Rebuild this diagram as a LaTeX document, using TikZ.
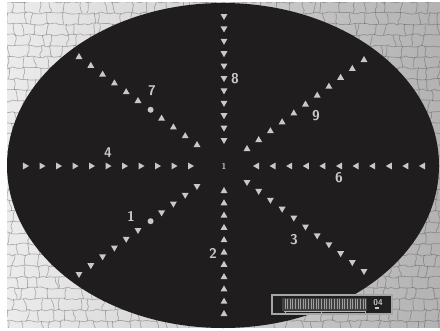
\documentclass[tikz,border=0pt]{standalone}
\usetikzlibrary{shapes.geometric,decorations.pathmorphing,calc}
\definecolor{plate}{HTML}{1F1D1E}
\definecolor{marker}{HTML}{C8C8C8}

\tikzset{
  tri/.style={regular polygon, regular polygon sides=3, fill=marker,
    inner sep=0pt, minimum size=0.2cm},
  tri up/.style={tri},
  tri down/.style={tri, shape border rotate=180},
  tri left/.style={tri, shape border rotate=90},
  tri right/.style={tri, shape border rotate=270},
  dot/.style={circle, fill=marker, inner sep=0pt, minimum size=0.15cm},
  num/.style={text=marker, inner sep=0pt,
    font=\sffamily\bfseries\fontsize{10}{12}\selectfont},
  crack/.style={black!75, opacity=0.35, line width=0.5pt, decorate,
    decoration={random steps, segment length=3pt, amplitude=0.8pt}},
}

\begin{document}
\begin{tikzpicture}[x=0.025cm, y=-0.025cm]
  \useasboundingbox (0,0) rectangle (440,330);
  \fill[white] (0,0) rectangle (440,330);

  % The stone wall behind the plate
  \shade[left color=gray!15, right color=gray!60] (7,2) rectangle (440,327);
  \begin{scope}
    \clip (7,2) rectangle (440,327);
    \pgfmathsetseed{11}
    \foreach \row in {0,...,30} {
      \draw[crack] (4,\row*11+2) -- (444,\row*11+2);
      \foreach \col in {0,...,33} {
        \pgfmathsetmacro{\cx}{\col*13+7+rnd*10}
        \draw[crack] (\cx,\row*11+2) -- (\cx+rand*3,\row*11+13);
      }
    }
  \end{scope}

  % The black plate
  \fill[plate] (223,165.5) ellipse [x radius=216, y radius=162.5];

  % Straight rays of markers
  \foreach \k in {0,...,10} {
    \node[tri down] (up-\k) at (224,140-12.4*\k) {};
    \node[tri up] (dn-\k) at (224,191+12.3*\k) {};
    \node[tri right] (lf-\k) at (190-16.5*\k,166) {};
    \node[tri left] (rt-\k) at (257+16.6*\k,166) {};
    \node[tri up] (ne-\k) at (247+11.7*\k,149-8.9*\k) {};
    \node[tri down] (se-\k) at (247+11.7*\k,182+8.9*\k) {};
  }
  % Left diagonals, with a dot in each
  \foreach \k in {0,...,10} {
    \ifnum\k=4
      \node[dot] (nw-\k) at (197-11.6*\k,145-8.8*\k) {};
      \node[dot] (sw-\k) at (197-11.6*\k,186+8.8*\k) {};
    \else
      \node[tri up] (nw-\k) at (197-11.8*\k,145-8.8*\k) {};
      \node[tri down] (sw-\k) at (197-11.8*\k,186+8.8*\k) {};
    \fi
  }

  % Numbers
  \node[num, font=\sffamily\bfseries\fontsize{6}{7}\selectfont] (centre) at (224,166) {1};
  \node[num] (n8) at (235,79) {8};
  \node[num] (n7) at (152,91) {7};
  \node[num] (n9) at (316,116) {9};
  \node[num] (n4) at (108,153) {4};
  \node[num] (n6) at (339,178) {6};
  \node[num] (n1) at (131,216) {1};
  \node[num] (n3) at (294,240) {3};
  \node[num] (n2) at (213,253) {2};

  % Level bar
  \filldraw[draw=gray!70, fill=gray!25!black, line width=0.8pt] (272,295) rectangle (392,314);
  \fill[gray!50!black] (282,298) rectangle (367,311);
  \foreach \x in {285,287.6,...,366} {
    \draw[gray!75, line width=0.6pt] (\x,299) -- (\x,309);
  }
  \draw[gray!60, line width=0.4pt] (284,311.5) -- (366,311.5);
  \foreach \x in {285,321,365} {
    \draw[gray!60, line width=0.4pt] (\x,310.5) -- (\x,312.5);
  }
  \node[num, font=\sffamily\bfseries\fontsize{6}{7}\selectfont] (level) at (378,302.5) {04};
  \draw[marker, line width=1pt] (375,308) -- (379,308);
\end{tikzpicture}
\end{document}
